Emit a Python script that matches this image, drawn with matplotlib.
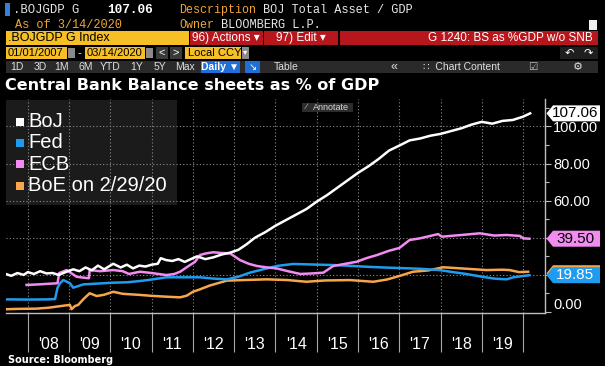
import matplotlib
matplotlib.use('Agg')
import matplotlib.pyplot as plt
from matplotlib.patches import Rectangle, Polygon

# =========================
# DATA (decimal year, % of GDP)
# =========================
boj_t = [2007.49, 2007.6, 2007.75, 2007.9, 2008.0, 2008.15, 2008.3, 2008.45, 2008.6, 2008.75,
         2008.94, 2009.1, 2009.25, 2009.4, 2009.55, 2009.7, 2009.85, 2010.07, 2010.25, 2010.4,
         2010.55, 2010.7, 2010.85, 2011.0, 2011.15, 2011.22, 2011.35, 2011.5, 2011.65, 2011.8,
         2011.95, 2012.1, 2012.3, 2012.5, 2012.7, 2012.9, 2013.1, 2013.3, 2013.5, 2013.75,
         2014.0, 2014.25, 2014.5, 2014.75, 2015.0, 2015.25, 2015.5, 2015.75, 2016.0, 2016.25,
         2016.5, 2016.75, 2017.0, 2017.25, 2017.5, 2017.75, 2018.0, 2018.25, 2018.5, 2018.75,
         2019.0, 2019.25, 2019.5, 2019.75, 2020.0, 2020.17]
boj_v = [20.3, 19.5, 21.0, 20.0, 21.5, 20.5, 22.0, 20.8, 21.0, 20.0,
         21.7, 23.0, 22.0, 24.0, 22.5, 25.0, 23.0, 26.0, 24.0, 25.5,
         23.5, 25.0, 24.5, 25.5, 26.0, 29.0, 28.0, 27.5, 28.5, 27.0,
         28.5, 30.0, 28.5, 29.5, 31.0, 32.0, 33.5, 36.5, 40.0, 43.0,
         46.5, 49.5, 52.5, 55.5, 59.5, 63.0, 67.0, 71.0, 75.0, 78.5,
         82.5, 87.0, 89.7, 92.5, 93.5, 95.0, 96.0, 97.5, 99.0, 101.0,
         102.5, 101.5, 103.0, 103.5, 105.3, 107.06]

fed_t = [2007.49, 2008.0, 2008.5, 2008.66, 2008.72, 2008.78, 2008.86, 2009.02, 2009.1, 2009.35,
         2009.6, 2010.07, 2010.4, 2010.72, 2011.0, 2011.36, 2011.69, 2012.17, 2012.5, 2012.82,
         2013.1, 2013.38, 2013.7, 2014.03, 2014.43, 2014.9, 2015.4, 2015.8, 2016.2, 2016.6,
         2017.0, 2017.5, 2017.97, 2018.3, 2018.62, 2019.0, 2019.3, 2019.6, 2019.76, 2020.0, 2020.15]
fed_v = [6.8, 6.7, 6.8, 7.0, 13.0, 15.5, 17.2, 15.5, 13.1, 14.9,
         15.2, 15.8, 16.0, 16.7, 17.5, 18.7, 18.7, 18.7, 18.0, 17.6,
         19.0, 21.2, 23.0, 24.8, 25.9, 25.6, 25.3, 24.9, 24.4, 24.0,
         23.7, 23.3, 22.6, 21.5, 20.5, 19.0, 18.0, 17.6, 18.7, 19.4, 19.85]

ecb_t = [2007.97, 2008.2, 2008.5, 2008.72, 2008.76, 2008.94, 2009.05, 2009.18, 2009.35, 2009.48,
         2009.5, 2009.75, 2010.07, 2010.3, 2010.45, 2010.72, 2011.0, 2011.36, 2011.55, 2011.69,
         2011.93, 2012.05, 2012.17, 2012.3, 2012.49, 2012.7, 2012.9, 2013.14, 2013.35, 2013.55,
         2013.8, 2014.03, 2014.3, 2014.6, 2014.9, 2015.16, 2015.4, 2015.7, 2015.97, 2016.2,
         2016.46, 2016.75, 2017.0, 2017.25, 2017.5, 2017.75, 2017.94, 2018.03, 2018.5, 2018.95,
         2019.3, 2019.6, 2019.92, 2020.0, 2020.15]
ecb_v = [14.6, 14.8, 15.2, 15.5, 21.0, 22.6, 21.0, 19.0, 18.5, 18.2,
         22.6, 22.0, 22.6, 22.0, 20.5, 21.7, 21.0, 19.9, 20.5, 21.7,
         25.3, 27.0, 30.7, 31.5, 32.2, 31.8, 31.6, 28.0, 26.0, 24.8,
         24.0, 23.5, 22.0, 20.5, 20.8, 21.2, 24.8, 26.0, 27.1, 29.0,
         30.7, 33.0, 34.5, 38.8, 39.7, 41.0, 42.0, 40.6, 41.5, 42.4,
         41.2, 41.5, 41.0, 39.7, 39.5]

boe_t = [2007.49, 2007.8, 2008.2, 2008.5, 2008.7, 2008.9, 2009.02, 2009.06, 2009.14, 2009.22,
         2009.35, 2009.5, 2009.67, 2009.85, 2010.07, 2010.3, 2010.72, 2011.0, 2011.4, 2011.69,
         2011.85, 2012.0, 2012.17, 2012.4, 2012.6, 2012.82, 2013.2, 2013.79, 2014.3, 2014.75,
         2015.2, 2015.8, 2016.37, 2016.7, 2017.0, 2017.33, 2017.7, 2018.06, 2018.5, 2019.11,
         2019.5, 2019.67, 2019.9, 2020.12]
boe_v = [1.5, 1.7, 1.8, 2.3, 2.9, 3.5, 3.8, 1.5, 3.2, 3.8,
         7.0, 10.1, 8.6, 9.3, 10.9, 9.8, 9.2, 8.7, 8.2, 7.9,
         8.8, 10.9, 12.2, 14.2, 15.5, 16.9, 17.2, 17.6, 17.2, 16.3,
         17.0, 17.2, 16.3, 17.5, 19.4, 21.7, 22.4, 24.1, 23.5, 22.6,
         22.8, 22.6, 21.5, 21.7]

series_names = ['BoJ', 'Fed', 'ECB', 'BoE on 2/29/20']
series_colors = ['#ffffff', '#1e9cf0', '#f28cf0', '#f8a54c']
year_ticks = list(range(2008, 2021))
year_labels = ["'%02d" % (y % 100) for y in range(2008, 2020)]
y_ticks = [0, 20, 40, 60, 80, 100]

# =========================
# FIGURE + HELPERS (pixel coords, origin top-left)
# =========================
W, H = 605, 366
fig = plt.figure(figsize=(6.05, 3.66), dpi=100, facecolor='black')

SANS = ['Liberation Sans', 'DejaVu Sans']
MONO = ['Liberation Mono', 'DejaVu Sans Mono']

def fx(px):
    return px / W

def fy(py):
    return 1 - py / H

def box(x0, y0, x1, y1, color, z=1, alpha=1.0):
    fig.patches.append(Rectangle((fx(x0), fy(y1)), fx(x1) - fx(x0), fy(y0) - fy(y1),
                                 transform=fig.transFigure, facecolor=color, edgecolor='none',
                                 zorder=z, alpha=alpha))

def txt(x, y, s, color='white', size=8.4, family=MONO, ha='left', **kw):
    fig.text(fx(x), fy(y), s, color=color, fontsize=size, family=family, ha=ha, va='center',
             zorder=6, **kw)

AMBER = '#f0a535'
YELLOW = '#f6bf26'
RED = '#b8161d'
DGRAY = '#2a2a2a'
BLUE = '#1f6fd6'

# =========================
# HEADER
# =========================
box(5, 3, 10, 16, '#3a7fd6')
txt(13, 10, '.BOJGDP G', color='#e8e8e8', size=8.8)
txt(107, 10, '107.06', weight='bold', size=9.2)
txt(179, 10, 'Description', color=AMBER, size=8.4)
txt(263, 10, 'BOJ Total Asset / GDP', color='#e8e8e8', size=8.6)
txt(15, 25, 'As of 3/14/2020', color=AMBER, size=8.6)
txt(179, 25, 'Owner', color=AMBER, size=8.4)
txt(221, 25, 'BLOOMBERG L.P.', color='#e8e8e8', size=8.6)
box(589, 20, 597, 30, '#f0f0f0')

# row 3
box(6, 31, 189, 45, YELLOW)
txt(8, 38, '.BOJGDP G Index', color='black', size=9, family=SANS)
box(190, 31, 263, 45, RED)
txt(226, 38, '96) Actions \u25be', size=8.5, family=SANS, ha='center')
box(264, 31, 338, 45, RED)
txt(301, 38, '97) Edit \u25be', size=8.5, family=SANS, ha='center')
box(340, 31, 598, 45, RED)
txt(593, 38, 'G 1240: BS as %GDP w/o SNB', size=8.5, family=SANS, ha='right')

# row 4
box(6, 47, 67, 59, YELLOW)
txt(8, 53, '01/01/2007', color='black', size=8, family=SANS)
box(68, 48, 75, 58, '#8a8a8a')
txt(79, 53, '-', size=8, family=SANS, ha='center')
box(85, 47, 145, 59, YELLOW)
txt(87, 53, '03/14/2020', color='black', size=8, family=SANS)
box(146, 48, 153, 58, '#8a8a8a')
box(156, 47, 168, 59, '#3a3a3a')
txt(162, 53, '<', size=8, family=SANS, ha='center')
box(170, 47, 182, 59, '#3a3a3a')
txt(176, 53, '>', size=8, family=SANS, ha='center')
box(185, 47, 241, 59, YELLOW)
txt(188, 53, 'Local CCY', color='black', size=8, family=SANS)
box(242, 47, 249, 59, '#8a8a8a')
txt(245.5, 53, '\u25be', color='white', size=6, family=SANS, ha='center')
box(560, 47, 598, 59, '#1e1e1e')
txt(569, 53, '\u21b6', size=8, family=SANS, ha='center')
txt(588, 53, '\u21b7', size=8, family=SANS, ha='center')

# row 5
box(6, 61, 598, 73, DGRAY)
for lab, x in zip(['1D', '3D', '1M', '6M', 'YTD', '1Y', '5Y', 'Max'],
                  [17, 40, 62, 86, 110, 137, 160, 185]):
    txt(x, 67, lab, size=7.5, family=SANS, ha='center', color='#e0e0e0')
box(201, 61, 240, 73, BLUE)
txt(220, 67, 'Daily \u25bc', size=7.5, family=SANS, ha='center', weight='bold')
box(245, 61, 260, 73, BLUE)
txt(252.5, 67, '\u2198', size=7, family=SANS, ha='center')
txt(286, 67, 'Table', size=7.5, family=SANS, ha='center', color='#e0e0e0')
txt(394, 67, '\u00ab', size=9, family=SANS, ha='center', color='#e0e0e0')
txt(461, 67, '\u2237  Chart Content', size=7.5, family=SANS, ha='center', color='#e0e0e0')
txt(533, 67, '\u2611', size=7.5, family=SANS, ha='center', color='#c0c0c0')
txt(578, 67, '\u2699', size=8, family=SANS, ha='center', color='#e0e0e0')

# title
txt(5, 86, 'Central Bank Balance sheets as % of GDP', size=11.5, family='DejaVu Sans', weight='bold')

# =========================
# CHART
# =========================
ax_l, ax_r, ax_t, ax_b = 6, 545, 99, 313
ax = fig.add_axes([fx(ax_l), fy(ax_b), fx(ax_r) - fx(ax_l), fy(ax_t) - fy(ax_b)])
ax.set_facecolor('black')
ax.set_xlim(2007.472, 2020.529)
ax.set_ylim(-0.54, 114.8)

grid_kw = dict(color='#8a8a8a', lw=0.8, ls=(0, (1, 2)), zorder=1)
for yv in y_ticks[1:]:
    ax.axhline(yv, **grid_kw)
for yr in year_ticks:
    ax.axvline(yr, **grid_kw)

# legend panel (semi transparent so the grid shows through)
ax.add_patch(Rectangle((fx(6), fy(205)), fx(177) - fx(6), fy(100) - fy(205),
                       transform=fig.transFigure, facecolor='#222222', edgecolor='none',
                       alpha=0.8, zorder=0.5))

for t, v, c in [(boe_t, boe_v, series_colors[3]), (fed_t, fed_v, series_colors[1]),
                (ecb_t, ecb_v, series_colors[2]), (boj_t, boj_v, series_colors[0])]:
    ax.plot(t, v, color=c, lw=1.8, zorder=3, solid_joinstyle='round')

# legend entries
for i, (name, c) in enumerate(zip(series_names, series_colors)):
    yc = 121.5 + i * 21.4
    box(16, yc - 4, 24, yc + 4, c, z=5)
    txt(28, yc, name, size=14.5, family=SANS)

# axes styling
for s in ['left', 'top']:
    ax.spines[s].set_visible(False)
for s in ['right', 'bottom']:
    ax.spines[s].set_color('#bdbdbd')
    ax.spines[s].set_linewidth(1.0)

ax.set_xticks(year_ticks)
ax.set_xticklabels([''] * len(year_ticks))
ax.set_xticks([y + 0.5 for y in range(2008, 2020)], minor=True)
ax.set_xticklabels(year_labels, minor=True)
ax.tick_params(axis='x', which='major', length=28, width=0.8, color='#a8a8a8', direction='out')
ax.tick_params(axis='x', which='minor', length=0, pad=17, labelsize=11.5, labelcolor='white')
for lab in ax.get_xticklabels(minor=True):
    lab.set_family(SANS)

# 20 and 40 sit under the value tags, so leave them blank
ax.yaxis.tick_right()
ax.set_yticks(y_ticks)
ax.set_yticklabels(['' if v in (20, 40) else '%.2f' % v for v in y_ticks])
ax.set_yticks([10, 30, 50, 70, 90, 110], minor=True)
ax.tick_params(axis='y', which='major', length=4, width=0.8, color='#bdbdbd', pad=2,
               labelsize=10.5, labelcolor='white')
ax.tick_params(axis='y', which='minor', length=3, width=0.8, color='#bdbdbd')
for lab in ax.get_yticklabels():
    lab.set_family(SANS)
ax.get_yticklabels()[0].set_va('bottom')

# last value tags on the right axis
ytr = ax.get_yaxis_transform()
axw = ax_r - ax_l
ppu = (ax_b - ax_t) / (ax.get_ylim()[1] - ax.get_ylim()[0])
x_tip = (546.5 - ax_l) / axw
x_body = (553 - ax_l) / axw
x_end = (600 - ax_l) / axw
hh = 8.0 / ppu

def value_tag(v, face, tcolor, label, z):
    pts = [(x_tip, v), (x_body, v + hh), (x_end, v + hh), (x_end, v - hh), (x_body, v - hh)]
    ax.add_patch(Polygon(pts, closed=True, transform=ytr, facecolor=face, edgecolor='none',
                         clip_on=False, zorder=z))
    if label:
        ax.text((x_body + x_end) / 2 - 0.002, v, label, transform=ytr, color=tcolor, fontsize=11,
                family=SANS, ha='center', va='center', zorder=z + 0.1, clip_on=False)

value_tag(boe_v[-1] - 0.8, series_colors[3], 'black', '', 10)
value_tag(fed_v[-1], series_colors[1], 'white', '%.2f' % fed_v[-1], 11)
value_tag(ecb_v[-1], series_colors[2], 'black', '%.2f' % ecb_v[-1], 11)
value_tag(boj_v[-1], series_colors[0], 'black', '%.2f' % boj_v[-1], 11)

# annotate button
box(302, 103, 353, 112, '#2c2c2c', z=1)
txt(306, 107.5, '\u2215', size=6, family=SANS, color='#cfcfcf')
txt(313, 107.5, 'Annotate', size=6.5, family=SANS, color='#d8d8d8')

txt(8, 360, 'Source: Bloomberg', size=7, family='DejaVu Sans', weight='bold')

fig.savefig('out.png', dpi=100, facecolor='black')
